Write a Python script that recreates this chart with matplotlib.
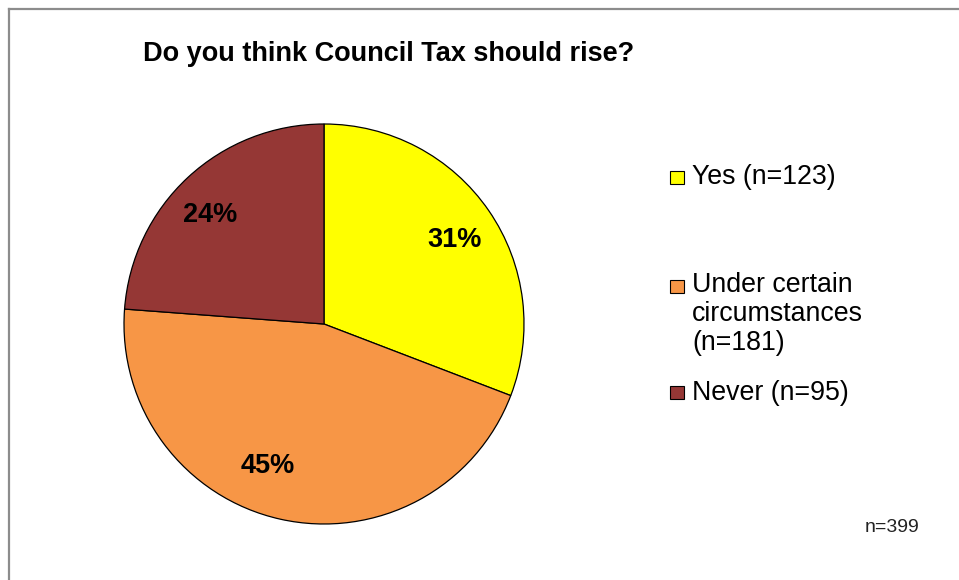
import matplotlib.pyplot as plt
from matplotlib.patches import Rectangle
from matplotlib.lines import Line2D

plt.rcParams['font.family'] = ['Liberation Sans', 'DejaVu Sans']

labels = ['Yes (n=123)', 'Under certain\ncircumstances\n(n=181)', 'Never (n=95)']
counts = [123, 181, 95]
colors = ['#FFFF00', '#F79646', '#953735']
total_label = 'n=399'
title = 'Do you think Council Tax should rise?'

W, H = 959, 580
fig = plt.figure(figsize=(W / 100, H / 100), dpi=100)

# pie axes: centre (324, 324) px, radius 200 px
ax = fig.add_axes([124 / W, 56 / H, 400 / W, 400 / H])
wedges, texts, autotexts = ax.pie(
    counts, colors=colors, startangle=90, counterclock=False,
    autopct=lambda p: f'{p:.0f}%', pctdistance=0.77,
    wedgeprops=dict(edgecolor='black', linewidth=0.9),
    textprops=dict(fontsize=19.5, fontweight='bold', color='black'))
ax.set_aspect('equal')
ax.set_xlim(-1, 1)
ax.set_ylim(-1, 1)

# nudge the percentage labels to where the original puts them
label_pos = [(0.655, 0.42), (-0.28, -0.71), (-0.57, 0.545)]
for t, pos in zip(autotexts, label_pos):
    t.set_position(pos)

fig.text(389 / W, 1 - 54 / H, title, fontsize=19.5, fontweight='bold',
         ha='center', va='center')

# legend drawn by hand
box_top = [171, 280, 386]
text_base = [184, 292, 400]
for lab, col, bt, tb in zip(labels, colors, box_top, text_base):
    fig.patches.append(Rectangle((670 / W, 1 - (bt + 13) / H), 14 / W, 13 / H,
                                 facecolor=col, edgecolor='black', linewidth=0.8,
                                 transform=fig.transFigure))
    first, *rest = lab.split('\n')
    fig.text(692 / W, 1 - tb / H, first, fontsize=19.3, ha='left', va='baseline')
    for i, line in enumerate(rest, start=1):
        fig.text(692 / W, 1 - (tb + 29 * i) / H, line, fontsize=19.3,
                 ha='left', va='baseline')

fig.text(892 / W, 1 - 528 / H, total_label, fontsize=14, ha='center',
         va='center', color='#222222')

# frame (only top and left edges visible)
fig.lines.append(Line2D([8.5 / W, 8.5 / W], [0, 1 - 8.5 / H], color='#8c8c8c',
                        linewidth=1.6, transform=fig.transFigure))
fig.lines.append(Line2D([8.5 / W, 1], [1 - 8.5 / H, 1 - 8.5 / H], color='#8c8c8c',
                        linewidth=1.6, transform=fig.transFigure))

fig.savefig('out.png', dpi=100, facecolor='white')
